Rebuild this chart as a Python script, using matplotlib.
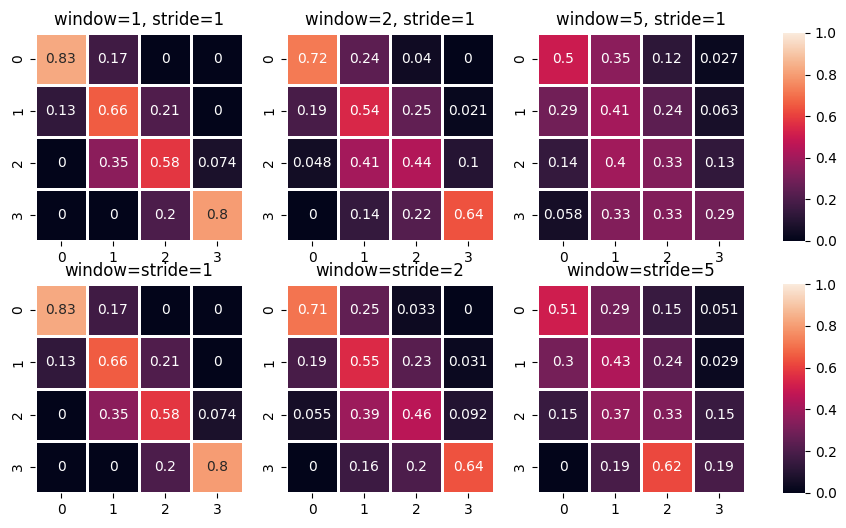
import numpy as np
import matplotlib
matplotlib.use('Agg')
import matplotlib.pyplot as plt
import seaborn as sns

# transition matrices
titles_top = ['window=1, stride=1', 'window=2, stride=1', 'window=5, stride=1']
titles_bot = ['window=stride=1', 'window=stride=2', 'window=stride=5']

w1 = [[0.83, 0.17, 0, 0],
      [0.13, 0.66, 0.21, 0],
      [0, 0.35, 0.58, 0.074],
      [0, 0, 0.2, 0.8]]
w2 = [[0.72, 0.24, 0.04, 0],
      [0.19, 0.54, 0.25, 0.021],
      [0.048, 0.41, 0.44, 0.1],
      [0, 0.14, 0.22, 0.64]]
w5 = [[0.5, 0.35, 0.12, 0.027],
      [0.29, 0.41, 0.24, 0.063],
      [0.14, 0.4, 0.33, 0.13],
      [0.058, 0.33, 0.33, 0.29]]
s1 = [[0.83, 0.17, 0, 0],
      [0.13, 0.66, 0.21, 0],
      [0, 0.35, 0.58, 0.074],
      [0, 0, 0.2, 0.8]]
s2 = [[0.71, 0.25, 0.033, 0],
      [0.19, 0.55, 0.23, 0.031],
      [0.055, 0.39, 0.46, 0.092],
      [0, 0.16, 0.2, 0.64]]
s5 = [[0.51, 0.29, 0.15, 0.051],
      [0.3, 0.43, 0.24, 0.029],
      [0.15, 0.37, 0.33, 0.15],
      [0, 0.19, 0.62, 0.19]]

W, H = 846, 528
fig = plt.figure(figsize=(W/100, H/100), dpi=100)

lefts = [35, 286, 537]
rows = [(33, 241), (284, 493)]
mats = [[w1, w2, w5], [s1, s2, s5]]
titles = [titles_top, titles_bot]

for r, (top, bot) in enumerate(rows):
    cax = fig.add_axes([783/W, (H-bot)/H, 22/W, (bot-top)/H])
    for c, left in enumerate(lefts):
        ax = fig.add_axes([left/W, (H-bot)/H, 208/W, (bot-top)/H])
        sns.heatmap(np.array(mats[r][c]), ax=ax, annot=True, vmin=0, vmax=1,
                    linewidths=1, linecolor='white',
                    cbar=(c == 0), cbar_ax=cax if c == 0 else None)
        ax.set_title(titles[r][c], fontsize=12)

fig.savefig('out.png', dpi=100)
